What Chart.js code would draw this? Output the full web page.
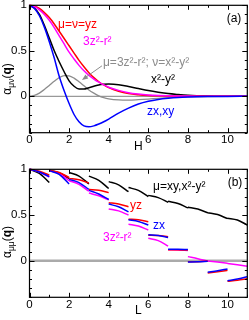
<!DOCTYPE html>
<html><head><meta charset="utf-8">
<script src="https://cdn.jsdelivr.net/npm/chart.js@4"></script>
<style>
html,body{margin:0;padding:0;background:#fff;overflow:hidden;width:249px;height:320px;}
canvas{position:absolute;left:0;}
#ca{top:0}#cb{top:160px}
</style></head><body>
<canvas id="ca" width="249" height="160"></canvas>
<canvas id="cb" width="249" height="160"></canvas>
<script>
// ---------- data: panel (a) ----------
const H = [0,0.25,0.5,0.75,1,1.25,1.5,1.75,2,2.25,2.5,2.75,3,3.25,3.5,3.75,4,4.5,5,5.5,6,6.5,7,7.5,8,9,10,11];
const aYZ  = [1,.99,.965,.92,.865,.795,.715,.635,.555,.475,.395,.325,.26,.205,.16,.125,.095,.055,.03,.017,.009,.005,.003,.002,.001,0,0,0];
const a3Z  = [1,.985,.95,.9,.835,.755,.665,.575,.485,.41,.34,.28,.23,.19,.155,.125,.1,.065,.04,.025,.015,.009,.005,.003,.002,.001,0,0];
const aX2  = [1,.97,.9,.78,.64,.5,.38,.27,.17,.11,.08,.08,.095,.11,.125,.132,.135,.128,.108,.085,.063,.045,.03,.02,.012,.004,.001,0];
const aZX  = [1,.965,.885,.76,.6,.42,.22,.06,-.08,-.2,-.28,-.325,-.335,-.325,-.305,-.28,-.25,-.185,-.13,-.085,-.055,-.035,-.022,-.013,-.008,-.003,-.001,0];
const aMix = [0,.01,.035,.075,.12,.165,.205,.228,.225,.2,.16,.115,.07,.035,.005,-.015,-.028,-.04,-.042,-.037,-.03,-.022,-.015,-.01,-.006,-.002,0,0];
// ---------- data: panel (b) : one [start, middle, end] triple per unit interval of L ----------
const segOffsets = [0, 0.5, 1];
const bXY = [[1,.955,.855],[.99,.96,.9],[.965,.925,.84],[.925,.88,.79],[.865,.83,.755],[.8,.77,.7],[.715,.69,.64],[.65,.625,.578],[.585,.565,.525],[.525,.505,.46],[.465,.445,.39]];
const bYZ = [[1,.98,.935],[.99,.965,.91],[.9,.885,.85],[.78,.77,.745],[.635,.62,.59],[.455,.447,.427],[.28,.275,.263],[.12,.12,.117],[-.012,-.01,-.004],[-.135,-.12,-.105],[-.225,-.213,-.197]];
const bZX = [[1,.97,.92],[.985,.945,.84],[.89,.855,.78],[.77,.73,.67],[.62,.59,.535],[.448,.43,.39],[.285,.275,.255],[.125,.125,.122],[-.015,-.012,-.005],[-.125,-.11,-.09],[-.22,-.2,-.175]];
const b3Z = [[1,.97,.915],[.985,.955,.875],[.875,.835,.76],[.74,.71,.665],[.565,.545,.5],[.4,.38,.336],[.245,.22,.16],[.12,.118,.112],[.045,.022,-.005],[-.002,-.015,-.028],[-.03,-.045,-.06]];
// ---------- tick labels ----------
const xTickLabels = ['0','2','4','6','8','10'];
const yTickLabels = ['0','0.5','1'];

const FONT = "'Liberation Sans', Arial, Helvetica, sans-serif";

function curve(xs, ys){ return xs.map((x,i)=>({x:x, y:ys[i]})); }
function segs(list){
  const out=[];
  list.forEach((s,n)=>{
    s.forEach((v,j)=>out.push({x:n+segOffsets[j], y:v}));
    out.push({x:n+1, y:null});
  });
  return out;
}
function ds(data,color,width){
  return {data:data,borderColor:color,borderWidth:width,pointRadius:0,fill:false,
          cubicInterpolationMode:'monotone',spanGaps:false,clip:2};
}

const framePlugin = {
  id:'frame',
  afterDatasetsDraw(chart){
    const {ctx, chartArea:a} = chart;
    const xs = chart.scales.x, ys = chart.scales.y;
    ctx.save();
    ctx.strokeStyle='#000'; ctx.lineWidth=1;
    ctx.beginPath();
    xs.ticks.forEach(t=>{
      const p = Math.round(xs.getPixelForValue(t.value))+0.5;
      const len = t.label!=='' ? 4.5 : 2.5;
      ctx.moveTo(p,a.bottom); ctx.lineTo(p,a.bottom-len);
      ctx.moveTo(p,a.top); ctx.lineTo(p,a.top+len);
    });
    ys.ticks.forEach(t=>{
      const p = Math.round(ys.getPixelForValue(t.value))+0.5;
      const len = t.label!=='' ? 5 : 2.5;
      ctx.moveTo(a.left,p); ctx.lineTo(a.left+len,p);
      ctx.moveTo(a.right,p); ctx.lineTo(a.right-len,p);
    });
    ctx.stroke();
    ctx.lineWidth=1.2;
    ctx.strokeRect(a.left, a.top, a.right-a.left, a.bottom-a.top);
    ctx.restore();
  }
};

const textPlugin = {
  id:'texts',
  afterDraw(chart, args, o){
    const {ctx} = chart;
    const xs = chart.scales.x, ys = chart.scales.y, a = chart.chartArea;
    ctx.save();
    ctx.textBaseline='middle';
    (o.labels||[]).forEach(l=>{
      ctx.font = (l.size||12)+'px '+FONT;
      ctx.fillStyle=l.color; ctx.textAlign=l.align||'left';
      ctx.fillText(l.text, xs.getPixelForValue(l.x), ys.getPixelForValue(l.y));
    });
    if(o.arrow){
      const r=o.arrow;
      const x1=xs.getPixelForValue(r.x1), y1=ys.getPixelForValue(r.y1);
      const x2=xs.getPixelForValue(r.x2), y2=ys.getPixelForValue(r.y2);
      ctx.strokeStyle=r.color; ctx.fillStyle=r.color; ctx.lineWidth=1;
      const ang=Math.atan2(y2-y1,x2-x1);
      ctx.beginPath(); ctx.moveTo(x1,y1); ctx.lineTo(x2-4*Math.cos(ang),y2-4*Math.sin(ang)); ctx.stroke();
      ctx.beginPath(); ctx.moveTo(x2,y2);
      ctx.lineTo(x2-6*Math.cos(ang)+2.5*Math.sin(ang), y2-6*Math.sin(ang)-2.5*Math.cos(ang));
      ctx.lineTo(x2-6*Math.cos(ang)-2.5*Math.sin(ang), y2-6*Math.sin(ang)+2.5*Math.cos(ang));
      ctx.closePath(); ctx.fill();
    }
    // x title
    ctx.fillStyle='#000'; ctx.textAlign='center'; ctx.font='12px '+FONT;
    ctx.fillText(o.xTitle, (a.left+a.right)/2, a.bottom+o.xTitleDy);
    // y title, rotated, with subscript and bold q
    ctx.translate(o.yTitleX, o.yTitleY); ctx.rotate(-Math.PI/2);
    ctx.textBaseline='alphabetic'; ctx.textAlign='left';
    const parts=[['α','12px '+FONT,0],[o.sub,'8.5px '+FONT,2.5],['(','12px '+FONT,0],['q','bold 12px '+FONT,0],[')','12px '+FONT,0]];
    let tot=0; parts.forEach(p=>{ctx.font=p[1]; tot+=ctx.measureText(p[0]).width;});
    let x=-tot/2;
    parts.forEach(p=>{ctx.font=p[1]; ctx.fillText(p[0],x,p[2]); x+=ctx.measureText(p[0]).width;});
    ctx.restore();
  }
};

function makeOptions(padTop, xAxisH, plug){
  return {
    responsive:false, animation:false, devicePixelRatio:1,
    layout:{padding:{top:padTop,right:1.7,left:0,bottom:0}},
    plugins:{legend:{display:false},tooltip:{enabled:false},texts:plug},
    scales:{
      x:{type:'linear',min:0,max:11,
         grid:{display:false,drawTicks:false},border:{display:false},
         ticks:{stepSize:1,autoSkip:false,maxRotation:0,padding:0.5,color:'#000',
                font:{family:FONT,size:11.5},
                callback:v=>{const s=String(v);return xTickLabels.includes(s)?s:'';}},
         afterFit:s=>{s.height=xAxisH;s.paddingLeft=0;s.paddingRight=0;}},
      y:{type:'linear',min:-0.4,max:1,
         grid:{display:false,drawTicks:false},border:{display:false},
         ticks:{stepSize:0.1,autoSkip:false,padding:2.5,color:'#000',
                font:{family:FONT,size:11.5},
                callback:v=>{const s=String(Math.round(v*10)/10);return yTickLabels.includes(s)?s:'';}},
         afterFit:s=>{s.width=29.5;s.paddingTop=0;s.paddingBottom=0;}}
    }
  };
}

new Chart(document.getElementById('ca'),{
  type:'line',
  data:{datasets:[
    ds(curve(H,aZX),'#0000ff',1.5),
    ds(curve(H,a3Z),'#ff00ff',1.5),
    ds(curve(H,aYZ),'#ff0000',1.5),
    ds(curve(H,aX2),'#000000',1.5),
    ds(curve(H,aMix),'#8c8c8c',1.3),
    ds([{x:0,y:0},{x:11,y:0}],'#808080',1)
  ]},
  options:makeOptions(5.3,27.3,{
    labels:[
      {text:'(a)',x:10.33,y:0.85,color:'#000',align:'center'},
      {text:'μ=ν=yz',x:1.44,y:0.785,color:'#ff0000'},
      {text:'3z²-r²',x:2.7,y:0.6,color:'#ff00ff'},
      {text:'μ=3z²-r²; ν=x²-y²',x:3.71,y:0.37,color:'#8c8c8c'},
      {text:'x²-y²',x:6.14,y:0.18,color:'#000'},
      {text:'zx,xy',x:5.93,y:-0.17,color:'#0000ff'}
    ],
    arrow:{x1:3.66,y1:0.335,x2:2.65,y2:0.18,color:'#8c8c8c'},
    xTitle:'H', xTitleDy:13.5, yTitleX:11, yTitleY:79, sub:'μν'
  }),
  plugins:[framePlugin,textPlugin]
});

new Chart(document.getElementById('cb'),{
  type:'line',
  data:{datasets:[
    ds(segs(bZX),'#0000ff',1.5),
    ds(segs(bYZ),'#ff0000',1.5),
    ds(segs(b3Z),'#ff00ff',1.5),
    ds(segs(bXY),'#000000',1.5),
    ds([{x:0,y:0},{x:11,y:0}],'#aaaaaa',2.5)
  ]},
  options:makeOptions(9.3,22.7,{
    labels:[
      {text:'(b)',x:10.38,y:0.85,color:'#000',align:'center'},
      {text:'μ=xy,x²-y²',x:6.24,y:0.806,color:'#000'},
      {text:'yz',x:5.08,y:0.6,color:'#ff0000'},
      {text:'zx',x:6.24,y:0.38,color:'#0000ff'},
      {text:'3z²-r²',x:3.71,y:0.248,color:'#ff00ff'}
    ],
    xTitle:'L', xTitleDy:13.5, yTitleX:11, yTitleY:82, sub:'μμ'
  }),
  plugins:[framePlugin,textPlugin]
});
</script>
</body></html>
